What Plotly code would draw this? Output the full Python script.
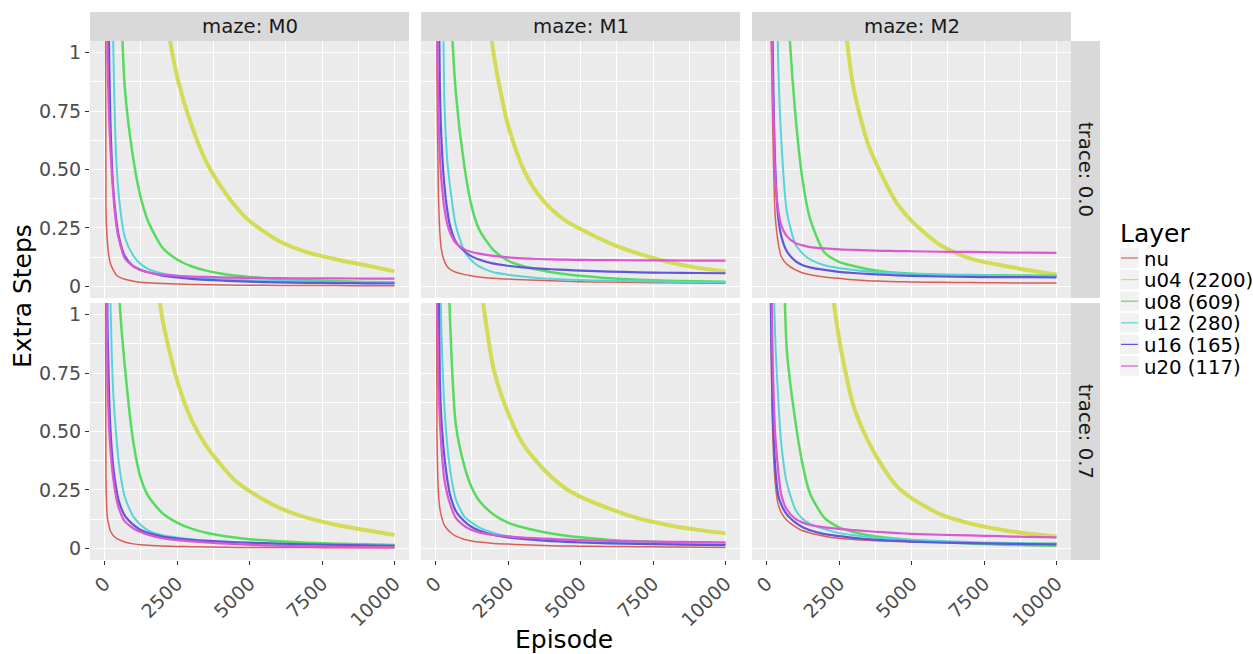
import plotly.graph_objects as go

# ---------------- data ----------------
EPISODES = [0, 50, 100, 150, 200, 300, 400, 500, 700, 1000, 1250, 1500, 2000,
            2500, 3000, 3500, 4000, 4500, 5000, 6000, 7000, 8000, 9000, 10000]
LAYERS = ["nu", "u04 (2200)", "u08 (609)", "u12 (280)", "u16 (165)", "u20 (117)"]
MAZES = ["M0", "M1", "M2"]
TRACES = ["0.0", "0.7"]
X_TICKS = [0, 2500, 5000, 7500, 10000]
X_TICK_TEXT = ["0", "2500", "5000", "7500", "10000"]
Y_TICKS = [0, 0.25, 0.5, 0.75, 1]
Y_TICK_TEXT = ["0", "0.25", "0.50", "0.75", "1"]

# maze M0, trace 0.0
M0_T00_NU = [3.0, 0.33, 0.19, 0.13, 0.10, 0.07, 0.05, 0.04, 0.03, 0.022, 0.017, 0.015, 0.012, 0.010, 0.008, 0.007, 0.006, 0.005, 0.005, 0.004, 0.003, 0.003, 0.002, 0.002]
M0_T00_U04 = [12, 11, 10, 9, 8.5, 7, 6, 5, 4, 3, 2.3, 1.9, 1.25, 0.9, 0.69, 0.535, 0.43, 0.345, 0.28, 0.195, 0.145, 0.115, 0.09, 0.064]
M0_T00_U08 = [10, 8, 6, 5, 4, 2.8, 2, 1.5, 0.85, 0.54, 0.38, 0.28, 0.165, 0.115, 0.086, 0.067, 0.055, 0.046, 0.04, 0.031, 0.026, 0.022, 0.019, 0.017]
M0_T00_U12 = [8, 6, 4.5, 3.2, 2.2, 1.05, 0.56, 0.38, 0.21, 0.13, 0.095, 0.075, 0.055, 0.045, 0.038, 0.033, 0.03, 0.028, 0.026, 0.023, 0.021, 0.019, 0.018, 0.017]
M0_T00_U16 = [6, 4, 2.2, 1.1, 0.72, 0.42, 0.29, 0.21, 0.13, 0.085, 0.07, 0.06, 0.046, 0.038, 0.032, 0.028, 0.025, 0.022, 0.02, 0.017, 0.015, 0.014, 0.013, 0.012]
M0_T00_U20 = [5, 2.0, 1.0, 0.75, 0.6, 0.4, 0.27, 0.2, 0.12, 0.085, 0.07, 0.06, 0.05, 0.045, 0.042, 0.04, 0.038, 0.037, 0.036, 0.035, 0.034, 0.034, 0.033, 0.033]

# maze M1, trace 0.0
M1_T00_NU = [3, 0.9, 0.4, 0.23, 0.16, 0.11, 0.085, 0.073, 0.06, 0.05, 0.045, 0.04, 0.034, 0.031, 0.028, 0.026, 0.024, 0.022, 0.02, 0.018, 0.016, 0.015, 0.014, 0.013]
M1_T00_U04 = [12, 11, 10, 9, 8.5, 7, 6, 5, 3.8, 2.7, 2.0, 1.6, 1.0, 0.69, 0.51, 0.4, 0.33, 0.28, 0.245, 0.185, 0.14, 0.105, 0.08, 0.064]
M1_T00_U08 = [10, 8, 6, 5, 4, 2.6, 1.8, 1.3, 0.83, 0.51, 0.34, 0.245, 0.155, 0.11, 0.087, 0.072, 0.06, 0.052, 0.045, 0.034, 0.028, 0.024, 0.022, 0.02]
M1_T00_U12 = [8, 6, 4, 2.8, 1.9, 0.82, 0.55, 0.43, 0.26, 0.15, 0.11, 0.085, 0.06, 0.05, 0.042, 0.036, 0.032, 0.029, 0.027, 0.024, 0.022, 0.02, 0.018, 0.017]
M1_T00_U16 = [6, 3, 1.5, 0.85, 0.64, 0.44, 0.33, 0.26, 0.19, 0.15, 0.128, 0.115, 0.097, 0.088, 0.081, 0.077, 0.073, 0.07, 0.067, 0.063, 0.06, 0.058, 0.057, 0.056]
M1_T00_U20 = [5, 1.1, 0.75, 0.56, 0.46, 0.34, 0.27, 0.23, 0.185, 0.158, 0.147, 0.14, 0.13, 0.124, 0.12, 0.117, 0.115, 0.114, 0.113, 0.112, 0.111, 0.111, 0.11, 0.11]

# maze M2, trace 0.0
M2_T00_NU = [5, 3.5, 2.2, 1.2, 0.78, 0.3, 0.19, 0.13, 0.095, 0.07, 0.057, 0.05, 0.04, 0.034, 0.028, 0.024, 0.022, 0.02, 0.019, 0.017, 0.016, 0.015, 0.014, 0.014]
M2_T00_U04 = [15, 14, 13, 12, 11.5, 10, 9, 8, 6.5, 5, 4.2, 3.5, 2.4, 1.4, 0.85, 0.61, 0.47, 0.355, 0.28, 0.176, 0.12, 0.092, 0.07, 0.05]
M2_T00_U08 = [12, 10, 8, 7, 6, 4.5, 3.5, 2.6, 1.3, 0.73, 0.45, 0.29, 0.145, 0.105, 0.087, 0.073, 0.064, 0.058, 0.054, 0.05, 0.048, 0.047, 0.046, 0.045]
M2_T00_U12 = [9, 7, 5.5, 4.5, 3.5, 1.8, 0.98, 0.65, 0.32, 0.18, 0.14, 0.115, 0.09, 0.078, 0.07, 0.064, 0.059, 0.056, 0.054, 0.05, 0.048, 0.046, 0.045, 0.044]
M2_T00_U16 = [6, 4.5, 3.2, 2.0, 1.15, 0.52, 0.3, 0.22, 0.15, 0.108, 0.09, 0.081, 0.07, 0.062, 0.057, 0.053, 0.05, 0.047, 0.045, 0.042, 0.04, 0.039, 0.039, 0.038]
M2_T00_U20 = [5, 4, 2.8, 1.2, 0.95, 0.47, 0.33, 0.265, 0.215, 0.185, 0.175, 0.168, 0.162, 0.158, 0.156, 0.154, 0.152, 0.151, 0.15, 0.148, 0.147, 0.145, 0.144, 0.143]

# maze M0, trace 0.7
M0_T07_NU = [3, 0.3, 0.13, 0.1, 0.075, 0.055, 0.044, 0.037, 0.027, 0.019, 0.015, 0.013, 0.01, 0.008, 0.007, 0.006, 0.005, 0.004, 0.004, 0.003, 0.003, 0.002, 0.002, 0.002]
M0_T07_U04 = [12, 11, 10, 9, 8.5, 7, 6, 5, 3.6, 2.4, 1.9, 1.5, 0.98, 0.72, 0.55, 0.44, 0.36, 0.29, 0.245, 0.175, 0.13, 0.1, 0.078, 0.057]
M0_T07_U08 = [10, 8, 6, 5, 4, 2.7, 1.7, 1.1, 0.78, 0.45, 0.3, 0.225, 0.15, 0.11, 0.084, 0.067, 0.055, 0.046, 0.039, 0.03, 0.024, 0.02, 0.017, 0.014]
M0_T07_U12 = [8, 5, 3, 1.8, 1.1, 0.67, 0.49, 0.36, 0.22, 0.135, 0.1, 0.077, 0.056, 0.046, 0.039, 0.033, 0.029, 0.026, 0.023, 0.019, 0.016, 0.014, 0.012, 0.011]
M0_T07_U16 = [6, 3, 1.0, 0.7, 0.52, 0.35, 0.26, 0.2, 0.14, 0.1, 0.078, 0.066, 0.05, 0.042, 0.036, 0.032, 0.029, 0.026, 0.024, 0.02, 0.017, 0.015, 0.013, 0.011]
M0_T07_U20 = [5, 1.5, 0.75, 0.54, 0.43, 0.3, 0.22, 0.17, 0.115, 0.085, 0.07, 0.058, 0.043, 0.035, 0.03, 0.025, 0.021, 0.018, 0.015, 0.011, 0.008, 0.006, 0.005, 0.004]

# maze M1, trace 0.7
M1_T07_NU = [3, 0.5, 0.24, 0.17, 0.14, 0.1, 0.083, 0.07, 0.052, 0.038, 0.031, 0.027, 0.021, 0.018, 0.015, 0.013, 0.011, 0.01, 0.009, 0.008, 0.007, 0.006, 0.005, 0.004]
M1_T07_U04 = [12, 11, 10, 9, 8.5, 7, 6, 5, 3.5, 2.3, 1.7, 1.2, 0.77, 0.58, 0.45, 0.37, 0.305, 0.255, 0.22, 0.17, 0.128, 0.1, 0.08, 0.064]
M1_T07_U08 = [10, 8, 6, 5, 4, 2.4, 1.5, 0.98, 0.53, 0.35, 0.26, 0.205, 0.145, 0.11, 0.09, 0.075, 0.063, 0.054, 0.047, 0.036, 0.03, 0.026, 0.023, 0.021]
M1_T07_U12 = [8, 5, 2.6, 1.3, 0.95, 0.62, 0.45, 0.34, 0.21, 0.135, 0.11, 0.09, 0.066, 0.052, 0.044, 0.038, 0.034, 0.031, 0.028, 0.025, 0.023, 0.021, 0.02, 0.019]
M1_T07_U16 = [6, 3, 1.3, 0.72, 0.56, 0.4, 0.3, 0.23, 0.16, 0.115, 0.091, 0.076, 0.057, 0.047, 0.04, 0.035, 0.031, 0.028, 0.025, 0.021, 0.019, 0.017, 0.015, 0.014]
M1_T07_U20 = [5, 1.1, 0.7, 0.55, 0.44, 0.3, 0.235, 0.19, 0.13, 0.095, 0.078, 0.068, 0.057, 0.051, 0.046, 0.043, 0.04, 0.037, 0.035, 0.032, 0.03, 0.028, 0.027, 0.026]

# maze M2, trace 0.7
M2_T07_NU = [5, 3, 1.8, 1.05, 0.55, 0.28, 0.19, 0.155, 0.12, 0.092, 0.075, 0.066, 0.052, 0.043, 0.038, 0.034, 0.031, 0.029, 0.027, 0.025, 0.023, 0.022, 0.021, 0.021]
M2_T07_U04 = [15, 14, 13, 12, 11.5, 10, 9, 8, 6.5, 4.5, 3.5, 2.7, 1.4, 0.9, 0.61, 0.46, 0.35, 0.265, 0.215, 0.145, 0.107, 0.082, 0.063, 0.05]
M2_T07_U08 = [12, 10, 8, 7, 6, 4, 2.8, 1.9, 0.85, 0.54, 0.355, 0.235, 0.13, 0.09, 0.07, 0.056, 0.047, 0.041, 0.036, 0.027, 0.021, 0.016, 0.013, 0.011]
M2_T07_U12 = [9, 6, 4, 2.5, 1.4, 0.9, 0.65, 0.46, 0.28, 0.165, 0.125, 0.105, 0.082, 0.065, 0.056, 0.049, 0.043, 0.039, 0.036, 0.031, 0.027, 0.024, 0.022, 0.021]
M2_T07_U16 = [6, 3.5, 2.2, 1.05, 0.66, 0.35, 0.23, 0.19, 0.145, 0.11, 0.09, 0.077, 0.061, 0.052, 0.045, 0.039, 0.035, 0.032, 0.029, 0.025, 0.022, 0.02, 0.018, 0.017]
M2_T07_U20 = [6, 4, 2.6, 1.5, 0.9, 0.49, 0.34, 0.235, 0.166, 0.126, 0.11, 0.1, 0.09, 0.083, 0.078, 0.073, 0.069, 0.065, 0.062, 0.058, 0.055, 0.052, 0.049, 0.047]

PANELS = [
    [[M0_T00_NU, M0_T00_U04, M0_T00_U08, M0_T00_U12, M0_T00_U16, M0_T00_U20],
     [M1_T00_NU, M1_T00_U04, M1_T00_U08, M1_T00_U12, M1_T00_U16, M1_T00_U20],
     [M2_T00_NU, M2_T00_U04, M2_T00_U08, M2_T00_U12, M2_T00_U16, M2_T00_U20]],
    [[M0_T07_NU, M0_T07_U04, M0_T07_U08, M0_T07_U12, M0_T07_U16, M0_T07_U20],
     [M1_T07_NU, M1_T07_U04, M1_T07_U08, M1_T07_U12, M1_T07_U16, M1_T07_U20],
     [M2_T07_NU, M2_T07_U04, M2_T07_U08, M2_T07_U12, M2_T07_U16, M2_T07_U20]],
]

# ---------------- style ----------------
COLORS = ["#DB5F57", "#D3DB57", "#57DB5F", "#57D3DB", "#5F57DB", "#DB57D3"]
WIDTHS = [1.5, 4.0, 2.5, 2.0, 2.2, 2.2]
FONT = "DejaVu Sans"
W, H = 1253, 654


def fx(p):
    return p / W


def fy(p):
    return 1 - p / H


COL_PX = [(90, 409), (421, 740), (752, 1071)]
ROW_PX = [(41, 298), (303, 560)]

fig = go.Figure()
layout = dict(
    width=W, height=H, autosize=False,
    margin=dict(l=0, r=0, t=0, b=0),
    paper_bgcolor="white", plot_bgcolor="#EBEBEB",
    font=dict(family=FONT, color="#000000"),
    showlegend=False,
)
shapes = []
annotations = []

for r in range(2):
    for c in range(3):
        idx = r * 3 + c + 1
        xa = "x" if idx == 1 else f"x{idx}"
        ya = "y" if idx == 1 else f"y{idx}"
        for k in range(len(LAYERS)):
            fig.add_trace(go.Scatter(
                x=EPISODES, y=PANELS[r][c][k], mode="lines", name=LAYERS[k],
                line=dict(color=COLORS[k], width=WIDTHS[k], shape="spline", smoothing=0.7),
                xaxis=xa, yaxis=ya, showlegend=False, hoverinfo="skip"))
        bottom = (r == 1)
        left = (c == 0)
        layout[f"xaxis{idx}"] = dict(
            domain=[fx(COL_PX[c][0]), fx(COL_PX[c][1])], anchor=ya,
            range=[-500, 10500], tickmode="array", tickvals=X_TICKS, ticktext=X_TICK_TEXT,
            showgrid=True, gridcolor="white", gridwidth=1.1, zeroline=False, showline=False,
            minor=dict(tickvals=[1250, 3750, 6250, 8750], showgrid=True,
                       gridcolor="white", gridwidth=0.5),
            ticks="outside" if bottom else "", ticklen=4, tickwidth=1, tickcolor="#333333",
            showticklabels=bottom, tickangle=-45,
            tickfont=dict(family=FONT, size=19, color="#4D4D4D"),
            fixedrange=True,
        )
        layout[f"yaxis{idx}"] = dict(
            domain=[fy(ROW_PX[r][1]), fy(ROW_PX[r][0])], anchor=xa,
            range=[-0.05, 1.05], tickmode="array", tickvals=Y_TICKS, ticktext=Y_TICK_TEXT,
            showgrid=True, gridcolor="white", gridwidth=1.1, zeroline=False, showline=False,
            minor=dict(tickvals=[0.125, 0.375, 0.625, 0.875], showgrid=True,
                       gridcolor="white", gridwidth=0.5),
            ticks="outside" if left else "", ticklen=4, tickwidth=1, tickcolor="#333333",
            showticklabels=left,
            tickfont=dict(family=FONT, size=19, color="#4D4D4D"),
            fixedrange=True,
        )

# top strips
for c, m in enumerate(MAZES):
    shapes.append(dict(type="rect", xref="paper", yref="paper",
                       x0=fx(COL_PX[c][0]), x1=fx(COL_PX[c][1]), y0=fy(41), y1=fy(12),
                       fillcolor="#D9D9D9", line=dict(width=0), layer="below"))
    annotations.append(dict(text=f"maze: {m}", xref="paper", yref="paper",
                            x=fx((COL_PX[c][0] + COL_PX[c][1]) / 2), y=fy(26.5),
                            xanchor="center", yanchor="middle", showarrow=False,
                            font=dict(family=FONT, size=19.7, color="#1A1A1A")))
# right strips
for r, t in enumerate(TRACES):
    shapes.append(dict(type="rect", xref="paper", yref="paper",
                       x0=fx(1071), x1=fx(1100), y0=fy(ROW_PX[r][1]), y1=fy(ROW_PX[r][0]),
                       fillcolor="#D9D9D9", line=dict(width=0), layer="below"))
    annotations.append(dict(text=f"trace: {t}", xref="paper", yref="paper",
                            x=fx(1085.5), y=fy((ROW_PX[r][0] + ROW_PX[r][1]) / 2),
                            xanchor="center", yanchor="middle", textangle=90, showarrow=False,
                            font=dict(family=FONT, size=19.7, color="#1A1A1A")))

# axis titles
annotations.append(dict(text="Episode", xref="paper", yref="paper", x=fx(564), y=fy(639),
                        xanchor="center", yanchor="middle", showarrow=False,
                        font=dict(family=FONT, size=25, color="#000000")))
annotations.append(dict(text="Extra Steps", xref="paper", yref="paper", x=fx(22), y=fy(296),
                        xanchor="center", yanchor="middle", textangle=-90, showarrow=False,
                        font=dict(family=FONT, size=25, color="#000000")))

# legend (drawn manually to match ggplot key spacing)
annotations.append(dict(text="Layer", xref="paper", yref="paper", x=fx(1118), y=fy(233),
                        xanchor="left", yanchor="middle", showarrow=False,
                        font=dict(family=FONT, size=25, color="#000000")))
for k, name in enumerate(LAYERS):
    yc = 258 + k * 21.6
    shapes.append(dict(type="rect", xref="paper", yref="paper",
                       x0=fx(1120), x1=fx(1139), y0=fy(yc + 9.7), y1=fy(yc - 9.7),
                       fillcolor="#F2F2F2", line=dict(width=0)))
    shapes.append(dict(type="line", xref="paper", yref="paper",
                       x0=fx(1121), x1=fx(1138), y0=fy(yc), y1=fy(yc),
                       line=dict(color=COLORS[k], width=1.2)))
    annotations.append(dict(text=name, xref="paper", yref="paper", x=fx(1142), y=fy(yc + 1),
                            xanchor="left", yanchor="middle", showarrow=False,
                            font=dict(family=FONT, size=19.7, color="#000000")))

layout["shapes"] = shapes
layout["annotations"] = annotations
fig.update_layout(**layout)
fig.write_html("out.html")
